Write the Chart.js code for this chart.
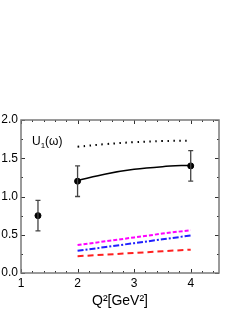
<!DOCTYPE html>
<html><head><meta charset="utf-8">
<script src="https://cdn.jsdelivr.net/npm/chart.js@4/dist/chart.umd.min.js"></script>
<style>html,body{margin:0;padding:0;background:#fff}#wrap{width:241px;height:312px}</style>
</head><body><div id="wrap"><canvas id="c"></canvas></div>
<script>
// data points with errors
const pointX = [1.3, 2, 4];
const pointY = [0.75, 1.2, 1.4];
const pointErr = [0.2, 0.2, 0.2];
// model curves
const curveX = [2, 2.5, 3, 3.5, 4];
const solidY = [1.21, 1.295, 1.355, 1.39, 1.41];
const dottedY = [1.65, 1.685, 1.71, 1.725, 1.73];
const magentaY = [0.365, 0.415, 0.465, 0.515, 0.56];
const blueY = [0.29, 0.34, 0.39, 0.44, 0.49];
const redY = [0.22, 0.24, 0.262, 0.285, 0.305];
const xTickLabels = [1, 2, 3, 4];
const yTickLabels = [0, 0.5, 1.0, 1.5, 2.0];

const toXY = (xs, ys) => xs.map((x, i) => ({x, y: ys[i]}));
const FONT = 'Liberation Sans, Arial, sans-serif';

const framePlugin = {
  id: 'frame',
  afterDatasetsDraw(chart) {
    const {ctx, chartArea: a, scales: {x, y}} = chart;
    ctx.save();
    // error bars
    ctx.strokeStyle = '#444'; ctx.lineWidth = 1.3;
    pointX.forEach((px, i) => {
      const X = x.getPixelForValue(px);
      const y1 = y.getPixelForValue(pointY[i] - pointErr[i]);
      const y2 = y.getPixelForValue(pointY[i] + pointErr[i]);
      ctx.beginPath();
      ctx.moveTo(X, y1); ctx.lineTo(X, y2);
      ctx.moveTo(X - 2.5, y1); ctx.lineTo(X + 2.5, y1);
      ctx.moveTo(X - 2.5, y2); ctx.lineTo(X + 2.5, y2);
      ctx.stroke();
    });
    // ticks inward
    ctx.strokeStyle = '#333'; ctx.lineWidth = 1;
    for (let v = 1; v <= 4.5001; v += 0.2) {
      const X = Math.round(x.getPixelForValue(v)) + 0.5;
      const major = Math.abs(v - Math.round(v)) < 1e-6;
      const L = major ? 4 : 2;
      ctx.beginPath();
      ctx.moveTo(X, a.bottom); ctx.lineTo(X, a.bottom - L);
      ctx.moveTo(X, a.top); ctx.lineTo(X, a.top + L);
      ctx.stroke();
    }
    for (let v = 0; v <= 2.0001; v += 0.25) {
      const Y = Math.round(y.getPixelForValue(v)) + 0.5;
      const major = Math.abs(v * 2 - Math.round(v * 2)) < 1e-6;
      const L = major ? 4 : 2;
      ctx.beginPath();
      ctx.moveTo(a.left, Y); ctx.lineTo(a.left + L, Y);
      ctx.moveTo(a.right, Y); ctx.lineTo(a.right - L, Y);
      ctx.stroke();
    }
    // frame
    ctx.strokeStyle = '#7a7a7a'; ctx.lineWidth = 1.5;
    ctx.strokeRect(a.left, a.top, a.right - a.left, a.bottom - a.top);
    // label U1(ω)
    ctx.fillStyle = '#000';
    ctx.textBaseline = 'alphabetic';
    ctx.font = '12px ' + FONT;
    let tx = a.left + 11;
    const ty = a.top + 25;
    ctx.fillText('U', tx, ty); tx += ctx.measureText('U').width;
    ctx.font = '8px ' + FONT;
    ctx.fillText('1', tx, ty + 3); tx += ctx.measureText('1').width;
    ctx.font = '12px ' + FONT;
    ctx.fillText('(ω)', tx, ty);
    ctx.restore();
  }
};

new Chart(document.getElementById('c'), {
  type: 'scatter',
  data: {
    datasets: [
      {type: 'line', data: toXY(curveX, dottedY), borderColor: '#000', borderWidth: 2, borderDash: [1.5, 4.5], pointRadius: 0, tension: 0.4, fill: false},
      {type: 'line', data: toXY(curveX, solidY), borderColor: '#000', borderWidth: 1.5, pointRadius: 0, cubicInterpolationMode: 'monotone', fill: false},
      {type: 'line', data: toXY(curveX, magentaY), borderColor: '#ff00ff', borderWidth: 2, borderDash: [4, 2], pointRadius: 0, fill: false},
      {type: 'line', data: toXY(curveX, blueY), borderColor: '#2020ff', borderWidth: 2, borderDash: [6, 2, 2, 2], pointRadius: 0, fill: false},
      {type: 'line', data: toXY(curveX, redY), borderColor: '#ff2020', borderWidth: 2, borderDash: [6, 4], pointRadius: 0, fill: false},
      {data: toXY(pointX, pointY), backgroundColor: '#000', borderColor: '#000', pointRadius: 3}
    ]
  },
  options: {
    responsive: true, maintainAspectRatio: false, animation: false,
    layout: {padding: {top: 120, right: 22, left: 0, bottom: 0}},
    plugins: {legend: {display: false}, tooltip: {enabled: false}},
    scales: {
      x: {
        type: 'linear', min: 1, max: 4.5,
        afterBuildTicks: s => { s.ticks = xTickLabels.map(v => ({value: v})); },
        afterFit: s => { s.height = 39; },
        grid: {display: false, drawTicks: false, tickLength: 0}, border: {display: false},
        ticks: {color: '#000', font: {family: FONT, size: 12}, padding: 3, callback: v => String(v)},
        title: {display: true, text: 'Q²[GeV²]', color: '#000', font: {family: FONT, size: 14}, padding: {top: 4, bottom: 2}}
      },
      y: {
        type: 'linear', min: 0, max: 2,
        afterBuildTicks: s => { s.ticks = yTickLabels.map(v => ({value: v})); },
        afterFit: s => { s.width = 21; },
        grid: {display: false, drawTicks: false, tickLength: 0}, border: {display: false},
        ticks: {color: '#000', font: {family: FONT, size: 12}, padding: 3, callback: v => Number(v).toFixed(1)}
      }
    }
  },
  plugins: [framePlugin]
});
</script></body></html>
